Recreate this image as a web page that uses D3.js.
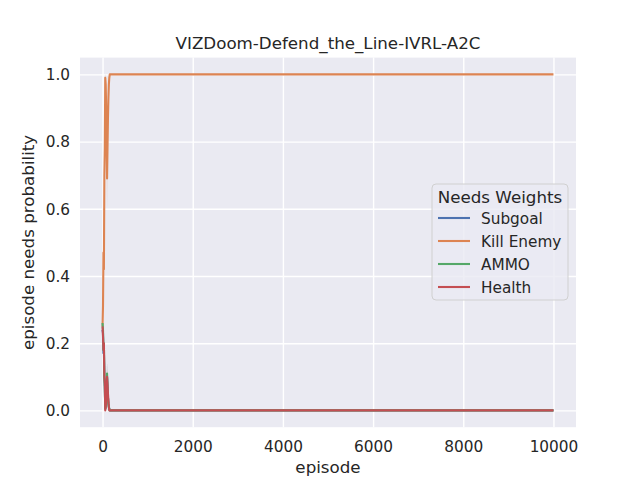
<!DOCTYPE html>
<html>
<head>
<meta charset="utf-8">
<script src="https://cdn.jsdelivr.net/npm/d3@7"></script>
<style>
  body { margin: 0; background: #fff; }
  text { font-family: 'DejaVu Sans', sans-serif; fill: #262626; }
</style>
</head>
<body>
<svg width="640" height="480"></svg>
<script>
// episodes sampled in the noisy start, then the flat tail
const episodes = [0, 10, 20, 30, 40, 50, 60, 70, 80, 90, 100, 110, 120, 130, 140, 150, 160, 170, 180, 200, 10000];

const subgoal   = [0.24, 0.23, 0.17, 0.18, 0.10, 0.07, 0.005, 0.01, 0.04, 0.07, 0.10, 0.07, 0.04, 0.02, 0.01, 0.005, 0, 0, 0, 0, 0];
const killEnemy = [0.25, 0.31, 0.47, 0.42, 0.70, 0.78, 0.99, 0.97, 0.90, 0.80, 0.69, 0.78, 0.87, 0.93, 0.97, 0.99, 1.0, 1.0, 1.0, 1.0, 1.0];
const ammo      = [0.26, 0.24, 0.18, 0.20, 0.10, 0.07, 0.005, 0.01, 0.03, 0.06, 0.11, 0.07, 0.04, 0.02, 0.01, 0.005, 0, 0, 0, 0, 0];
const health    = [0.25, 0.22, 0.18, 0.20, 0.10, 0.08, 0.0, 0.01, 0.03, 0.07, 0.10, 0.08, 0.05, 0.03, 0.01, 0.0, 0, 0, 0, 0, 0];

// faint spread bands around the early part
const killEnemyLow  = [0.24, 0.28, 0.40, 0.36, 0.62, 0.70, 0.95, 0.92, 0.82, 0.70, 0.60, 0.70, 0.82, 0.90, 0.95, 0.98, 1.0, 1.0, 1.0, 1.0, 1.0];
const killEnemyHigh = [0.26, 0.36, 0.55, 0.50, 0.80, 0.86, 1.0, 1.0, 0.97, 0.90, 0.80, 0.86, 0.93, 0.97, 0.99, 1.0, 1.0, 1.0, 1.0, 1.0, 1.0];
const otherLow      = [0.23, 0.20, 0.15, 0.16, 0.07, 0.05, 0.0, 0.0, 0.01, 0.04, 0.07, 0.05, 0.02, 0.01, 0.0, 0.0, 0, 0, 0, 0, 0];
const otherHigh     = [0.27, 0.26, 0.22, 0.23, 0.14, 0.11, 0.02, 0.03, 0.06, 0.10, 0.14, 0.11, 0.07, 0.04, 0.02, 0.01, 0, 0, 0, 0, 0];

const seriesNames = ['Subgoal', 'Kill Enemy', 'AMMO', 'Health'];
const seriesValues = [subgoal, killEnemy, ammo, health];
const colors = ['#4C72B0', '#DD8452', '#55A868', '#C44E52'];

const xTicks = [0, 2000, 4000, 6000, 8000, 10000];
const yTicks = [0.0, 0.2, 0.4, 0.6, 0.8, 1.0];

const svg = d3.select('svg');
const margin = { top: 57.6, right: 64, bottom: 52.8, left: 80 };
const width = 640, height = 480;
const innerWidth = width - margin.left - margin.right;
const innerHeight = height - margin.top - margin.bottom;

const xScale = d3.scaleLinear().domain([-500, 10500]).range([0, innerWidth]);
const yScale = d3.scaleLinear().domain([-0.05, 1.05]).range([innerHeight, 0]);

const g = svg.append('g')
  .attr('transform', `translate(${margin.left},${margin.top})`);

g.append('rect')
  .attr('width', innerWidth)
  .attr('height', innerHeight)
  .attr('fill', '#EAEAF2');

// grid
const xAxis = d3.axisBottom(xScale)
  .tickValues(xTicks)
  .tickSize(-innerHeight)
  .tickPadding(10)
  .tickFormat(d3.format('d'));
const yAxis = d3.axisLeft(yScale)
  .tickValues(yTicks)
  .tickSize(-innerWidth)
  .tickPadding(10)
  .tickFormat(d3.format('.1f'));

const xAxisG = g.append('g')
  .attr('transform', `translate(0,${innerHeight})`)
  .call(xAxis);
const yAxisG = g.append('g').call(yAxis);

[xAxisG, yAxisG].forEach(ax => {
  ax.select('.domain').remove();
  ax.selectAll('line').attr('stroke', '#fff').attr('stroke-width', 1.4);
  ax.selectAll('text')
    .attr('font-size', 15.3)
    .attr('font-family', "'DejaVu Sans', sans-serif")
    .attr('fill', '#262626');
});
xAxisG.selectAll('text').attr('y', 25).attr('dy', null);
yAxisG.selectAll('text').attr('dy', '0.35em');

// bands
const band = (lo, hi) => d3.area()
  .x((d, i) => xScale(episodes[i]))
  .y0((d, i) => yScale(lo[i]))
  .y1((d, i) => yScale(hi[i]));

g.append('path')
  .datum(episodes)
  .attr('fill', colors[1])
  .attr('fill-opacity', 0.2)
  .attr('d', band(killEnemyLow, killEnemyHigh));
[0, 2, 3].forEach(i => {
  g.append('path')
    .datum(episodes)
    .attr('fill', colors[i])
    .attr('fill-opacity', 0.15)
    .attr('d', band(otherLow, otherHigh));
});

// lines
const line = d3.line()
  .x((d, i) => xScale(episodes[i]))
  .y(d => yScale(d));

seriesValues.forEach((vals, i) => {
  g.append('path')
    .datum(vals)
    .attr('fill', 'none')
    .attr('stroke', colors[i])
    .attr('stroke-width', 2.1)
    .attr('stroke-linejoin', 'round')
    .attr('d', line);
});

// title and labels
svg.append('text')
  .attr('x', margin.left + innerWidth / 2)
  .attr('y', 49)
  .attr('text-anchor', 'middle')
  .attr('font-size', 16.7)
  .text('VIZDoom-Defend_the_Line-IVRL-A2C');

svg.append('text')
  .attr('x', margin.left + innerWidth / 2)
  .attr('y', 473)
  .attr('text-anchor', 'middle')
  .attr('font-size', 16.7)
  .text('episode');

svg.append('text')
  .attr('transform', `translate(34,${margin.top + innerHeight / 2}) rotate(-90)`)
  .attr('text-anchor', 'middle')
  .attr('font-size', 16.7)
  .text('episode needs probability');

// legend
const legend = svg.append('g').attr('transform', 'translate(432,184)');
legend.append('rect')
  .attr('width', 136)
  .attr('height', 116)
  .attr('rx', 4)
  .attr('fill', '#EAEAF2')
  .attr('fill-opacity', 0.8)
  .attr('stroke', '#d0d0d0');
legend.append('text')
  .attr('x', 68)
  .attr('y', 19)
  .attr('text-anchor', 'middle')
  .attr('font-size', 16.7)
  .text('Needs Weights');
seriesNames.forEach((name, i) => {
  const y = 34 + i * 23;
  legend.append('line')
    .attr('x1', 6).attr('x2', 38)
    .attr('y1', y).attr('y2', y)
    .attr('stroke', colors[i])
    .attr('stroke-width', 2.1);
  legend.append('text')
    .attr('x', 49)
    .attr('y', y + 5.5)
    .attr('font-size', 15.3)
    .text(name);
});
</script>
</body>
</html>
